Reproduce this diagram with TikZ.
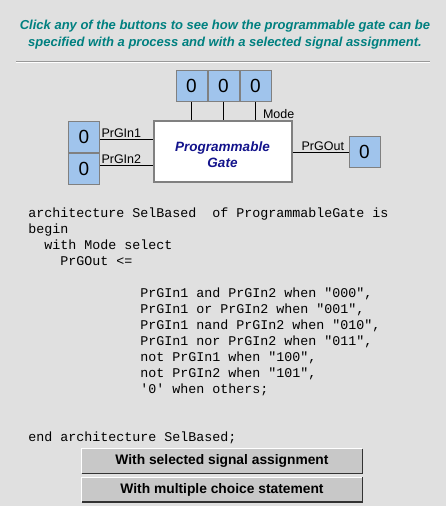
\documentclass[tikz,border=0pt]{standalone}
\usepackage{fontspec}
\setmainfont{Liberation Sans}
\setmonofont{Liberation Mono}
\usetikzlibrary{positioning}

\definecolor{pagegrey}{RGB}{224,224,224}
\definecolor{titleteal}{RGB}{0,128,128}
\definecolor{bitblue}{RGB}{160,196,236}
\definecolor{gatenavy}{RGB}{20,20,140}
\definecolor{buttongrey}{RGB}{200,200,200}

\newcommand{\gateline}[1]{\raisebox{-3pt}[\height][\depth]{#1}}

\begin{document}
\begin{tikzpicture}[x=1pt,y=-1pt,thick,
    bit box/.style={draw=gray,line width=1pt,fill=bitblue,minimum width=31pt,minimum height=31pt,inner sep=0pt,font=\fontsize{19}{20}\selectfont},
    gate node/.style={draw=gray,line width=2pt,fill=white,minimum width=138pt,minimum height=61pt,align=center,text=gatenavy,font=\fontsize{13.5}{16}\selectfont\bfseries\itshape},
    wire/.style={line width=1pt,black},
    wire label/.style={font=\fontsize{12.5}{14}\selectfont,inner sep=1pt},
    code line/.style={anchor=base west,inner sep=0pt,font=\ttfamily\fontsize{13.33}{16}\selectfont},
    button node/.style={fill=buttongrey,minimum width=280pt,minimum height=24pt,inner sep=0pt,font=\fontsize{13.8}{16}\selectfont\bfseries}]
            \useasboundingbox[fill=pagegrey] (0,0) rectangle (446,506);

            % title and separator
            \node[text=titleteal,align=center,font=\fontsize{13}{17}\selectfont\bfseries\itshape] (title) at (225,35)
                {Click any of the buttons to see how the programmable gate can be\\specified with a process and with a selected signal assignment.};
            \draw[line width=1pt,gray!80] (16,61) -- (430,61);
            \draw[line width=1pt,white] (16,62) -- (430,62);

            % gate and its inputs
            \node[gate node] (gate) at (222.5,151.5) {\gateline{Programmable}\\\gateline{Gate}};

            \node[bit box] (m1) at (191.5,85.5) {0};
            \node[bit box] (m2) [right=0pt of m1] {0};
            \node[bit box] (m3) [right=0pt of m2] {0};

            \node[bit box] (in1) at (84,136.5) {0};
            \node[bit box] (in2) [below=0pt of in1] {0};

            \node[bit box] (out) at (364.5,152) {0};

            \draw[wire] (m1.south) -- (m1.south |- gate.north);
            \draw[wire] (m2.south) -- (m2.south |- gate.north);
            \draw[wire] (m3.south) -- (m3.south |- gate.north) node[wire label,anchor=south west,pos=1,xshift=6pt] (mode) {Mode};

            \draw[wire] (in1.east |- 0,139) -- node[wire label,anchor=south west,pos=0] (lin1) {PrGIn1} (gate.west |- 0,139);
            \draw[wire] (in2.east |- 0,165) -- node[wire label,anchor=south west,pos=0] (lin2) {PrGIn2} (gate.west |- 0,165);
            \draw[wire] (gate.east |- out.west) -- node[wire label,anchor=south east,pos=1,xshift=-3pt] (lout) {PrGOut} (out.west);

            % code
            \node[code line] (code1) at (28,217) {architecture SelBased\ \ of ProgrammableGate is};
            \node[code line] (code2) at (28,233) {begin};
            \node[code line] (code3) at (44,249) {with Mode select};
            \node[code line] (code4) at (60,265) {PrGOut <=};
            \node[code line] (code5) at (140,297) {PrGIn1 and PrGIn2 when "000",};
            \node[code line] (code6) at (140,313) {PrGIn1 or PrGIn2 when "001",};
            \node[code line] (code7) at (140,329) {PrGIn1 nand PrGIn2 when "010",};
            \node[code line] (code8) at (140,345) {PrGIn1 nor PrGIn2 when "011",};
            \node[code line] (code9) at (140,361) {not PrGIn1 when "100",};
            \node[code line] (code10) at (140,377) {not PrGIn2 when "101",};
            \node[code line] (code11) at (140,393) {'0' when others;};
            \node[code line] (code12) at (28,441) {end architecture SelBased;};

            % buttons
            \node[button node] (btn1) at (222,461) {With selected signal assignment};
            \node[button node] (btn2) at (222,489.5) {With multiple choice statement};
            \foreach \b in {btn1,btn2}{
                \draw[line width=1pt,white] (\b.south west) -- (\b.north west) -- (\b.north east);
                \draw[line width=1.5pt,black!80] (\b.south west) -- (\b.south east) -- (\b.north east);
            }
        \end{tikzpicture}
\end{document}
